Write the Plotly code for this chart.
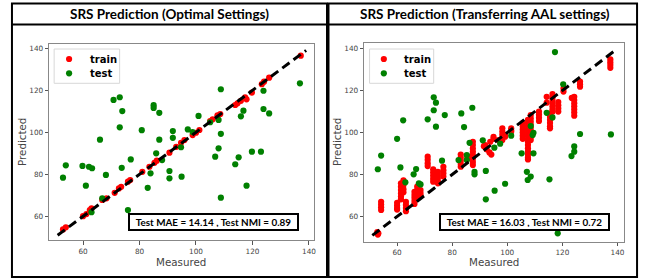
import plotly.graph_objects as go

# ---------------- data ----------------
left_train_x = [52.9, 53.9, 60.0, 61.2, 62.4, 63.0, 66.8, 68.3, 71.2, 72.7, 73.5, 75.9, 76.7, 81.0,
                83.5, 85.3, 86.1, 90.6, 93.0, 94.7, 95.9, 98.8, 100.0, 101.2, 105.0, 105.9, 107.6,
                108.6, 113.9, 114.7, 115.9, 117.4, 117.9, 119.8, 123.3, 124.1, 125.9, 137.1]
left_train_y = [53.8, 54.8, 60.1, 61.1, 63.0, 63.8, 67.8, 68.6, 71.2, 73.3, 74.1, 76.5, 77.3, 81.2,
                83.6, 85.5, 86.5, 90.3, 93.1, 95.0, 96.3, 98.7, 99.8, 101.1, 105.4, 106.2, 108.1,
                108.7, 113.0, 113.8, 115.0, 116.7, 115.7, 118.9, 122.9, 124.1, 126.0, 136.5]

left_test_x = [70.8, 73.0, 73.9, 73.0, 66.0, 80.8, 85.0, 85.0, 87.0, 87.0, 91.8, 91.8, 108.8, 136.8,
               123.9, 116.8, 115.9, 123.9, 125.9, 100.9, 108.0, 105.0, 108.8, 108.0, 97.1, 98.8,
               94.7, 53.9, 52.9, 59.8, 62.1, 63.2, 61.0, 68.1, 73.7, 76.9, 66.8, 63.0, 75.9, 82.9,
               83.9, 85.9, 88.0, 90.6, 90.6, 106.8, 115.1, 113.9, 119.8, 123.0, 117.9, 108.8, 94.9]
left_test_y = [115.4, 116.7, 110.1, 102.4, 96.5, 101.0, 112.9, 111.6, 109.3, 96.5, 100.6, 97.4, 120.5,
               123.3, 119.8, 110.3, 107.6, 111.1, 109.0, 107.8, 105.9, 104.8, 99.3, 92.4, 101.4,
               100.1, 92.9, 84.3, 78.4, 84.0, 83.6, 82.9, 74.6, 79.7, 83.1, 87.1, 68.6, 62.0, 63.0,
               73.6, 80.5, 90.0, 86.8, 81.6, 78.1, 88.4, 88.1, 84.8, 90.8, 90.8, 74.6, 68.9, 78.9]

right_train_x = [52.8, 53.0, 53.2,
                 54.2, 54.2, 54.2, 54.2,
                 60.0, 60.0, 60.0, 60.0,
                 61.4, 61.4, 61.4, 61.4, 61.4, 61.4,
                 62.3, 62.3, 62.3, 62.3,
                 63.2, 63.2, 63.2, 63.2,
                 66.3, 66.3, 66.3, 66.3, 66.3,
                 67.3, 67.3, 67.3, 67.3,
                 68.5, 68.5, 68.5,
                 71.1, 71.1, 71.1, 71.1,
                 73.1, 73.1, 73.1, 73.1, 73.1,
                 74.8, 74.8, 74.8, 74.8, 74.8,
                 76.8, 76.8, 76.8, 76.8,
                 83.1, 83.1, 83.1, 83.1, 83.1,
                 85.5, 85.5,
                 87.5, 87.5, 87.5, 87.5, 87.5, 87.5, 87.5, 87.5,
                 91.5, 92.5, 93.5, 94.2,
                 92.0, 93.8, 95.0, 95.0, 96.8,
                 98.2, 98.2, 98.2, 98.2, 98.2,
                 99.2, 99.2,
                 101.4, 101.4, 101.4,
                 105.6, 105.6, 105.6, 105.6, 105.6, 105.6,
                 107.5, 107.5, 107.5, 107.5, 107.5, 107.5, 107.5, 107.5, 107.5, 107.5, 107.5, 107.5,
                 107.5, 107.5,
                 108.5, 108.5, 108.5, 108.5, 108.5, 108.5, 108.5, 108.5, 108.5,
                 111.5, 111.5, 111.5, 111.5,
                 114.3, 114.3,
                 115.5, 115.5, 115.5, 115.5, 115.5, 115.5,
                 116.4, 116.4, 116.4, 116.4, 116.4, 116.4, 116.4,
                 118.5, 118.5, 118.5, 118.5,
                 120.4, 120.4,
                 123.4,
                 124.3, 124.3, 124.3, 124.3, 124.3, 124.3, 124.3,
                 126.4, 126.4, 126.4,
                 137.4, 137.4, 137.4, 137.4]
right_train_y = [52.6, 51.4, 52.0,
                 67.0, 65.7, 64.4, 63.1,
                 66.5, 65.2, 64.0, 63.3,
                 75.8, 74.2, 72.6, 71.0, 69.5, 68.2,
                 77.2, 75.0, 73.0, 71.5,
                 67.0, 65.5, 64.0, 62.5,
                 71.8, 70.3, 68.9, 67.4, 66.0,
                 74.2, 72.6, 71.0, 69.6,
                 72.6, 71.2, 70.0,
                 88.5, 87.0, 85.4, 84.0,
                 82.5, 81.0, 79.5, 78.0, 76.6,
                 81.3, 79.8, 78.3, 76.8, 75.8,
                 83.7, 82.0, 80.5, 79.0,
                 89.5, 88.0, 86.5, 85.0, 83.7,
                 88.8, 87.5,
                 95.6, 94.0, 92.4, 90.8, 89.2, 87.6, 86.0, 84.5,
                 93.5, 92.0, 90.5, 89.5,
                 94.0, 95.6, 98.0, 97.0, 96.4,
                 102.0, 100.5, 99.0, 97.5, 96.4,
                 98.8, 98.0,
                 102.0, 101.0, 100.4,
                 104.4, 103.0, 101.5, 100.0, 98.5, 97.0,
                 106.0, 104.5, 103.0, 101.5, 100.0, 98.5, 97.0, 95.6, 94.0, 92.5, 91.0, 89.5,
                 88.0, 87.2,
                 108.3, 106.8, 105.3, 103.8, 102.3, 100.8, 99.3, 97.8, 96.4,
                 110.0, 108.5, 107.0, 105.5,
                 114.2, 117.0,
                 109.0, 107.5, 106.0, 104.5, 103.0, 102.0,
                 118.3, 116.8, 115.5, 114.0, 112.5, 111.0, 109.9,
                 114.5, 113.0, 111.5, 110.0,
                 121.0, 119.5,
                 116.5,
                 117.0, 115.5, 114.0, 112.5, 111.0, 109.5, 108.0,
                 124.2, 123.0, 121.8,
                 134.8, 133.5, 132.2, 130.8]

right_test_x = [73.3, 74.1, 73.3, 77.3, 71.1, 62.2, 74.1, 83.3, 87.3, 84.3, 60.0, 86.3, 91.1, 95.3,
                97.4, 117.3, 120.3, 114.3, 116.4, 108.5, 109.5, 109.2, 101.4, 126.4, 137.6, 124.3,
                124.3, 123.3, 105.2, 109.5, 107.1, 108.5, 107.4, 99.2, 115.3, 118.3, 54.2, 53.0,
                61.2, 63.0, 66.0, 66.9, 67.9, 68.5, 76.3, 82.3, 85.3, 85.3, 88.1, 88.1, 92.2, 95.4,
                92.2]
right_test_y = [116.8, 114.2, 110.6, 108.3, 106.3, 105.8, 102.8, 109.1, 111.8, 102.6, 97.0, 95.1, 96.3,
                92.8, 94.7, 138.3, 123.0, 109.4, 107.2, 103.1, 99.9, 98.8, 98.5, 99.3, 99.1, 93.4,
                90.9, 88.8, 90.1, 90.1, 81.3, 79.0, 77.4, 75.6, 77.7, 52.0, 89.0, 82.5, 83.4, 76.3,
                80.1, 82.6, 75.8, 75.3, 86.6, 86.9, 89.3, 86.9, 81.3, 80.1, 81.7, 72.3, 68.2]

ideal_line = [51, 139]
tick_vals = [60, 80, 100, 120, 140]
titles = ["SRS Prediction (Optimal Settings)", "SRS Prediction (Transferring AAL settings)"]
stats = ["Test MAE = 14.14 , Test NMI = 0.89", "Test MAE = 16.03 , Test NMI = 0.72"]
legend_names = ["train", "test"]

# ---------------- figure ----------------
W, H = 656, 280
fig = go.Figure()

RED = "#ff0000"
GREEN = "#008000"
MS = 6.2

def px_x(p):
    return p / W

def px_y(p):
    return 1 - p / H

panels = [
    dict(xa="x", ya="y", trx=left_train_x, try_=left_train_y, tex=left_test_x, tey=left_test_y),
    dict(xa="x2", ya="y2", trx=right_train_x, try_=right_train_y, tex=right_test_x, tey=right_test_y),
]
for p in panels:
    fig.add_trace(go.Scatter(x=p["trx"], y=p["try_"], mode="markers", name=legend_names[0],
                             marker=dict(color=RED, size=MS), xaxis=p["xa"], yaxis=p["ya"],
                             showlegend=False))
    fig.add_trace(go.Scatter(x=p["tex"], y=p["tey"], mode="markers", name=legend_names[1],
                             marker=dict(color=GREEN, size=MS), xaxis=p["xa"], yaxis=p["ya"],
                             showlegend=False))
    fig.add_trace(go.Scatter(x=ideal_line, y=ideal_line, mode="lines", showlegend=False,
                             line=dict(color="black", width=3, dash="9px,5px"),
                             xaxis=p["xa"], yaxis=p["ya"]))

tickfont = dict(family="DejaVu Sans", size=7.3, color="#444")
axis_common = dict(tickvals=tick_vals, ticks="outside", ticklen=3.5, tickwidth=0.8, tickcolor="#555",
                   showline=True, linecolor="#888", linewidth=1, mirror=True, showgrid=False,
                   zeroline=False, tickfont=tickfont)

fig.update_layout(
    width=W, height=H, margin=dict(l=0, r=0, t=0, b=0),
    paper_bgcolor="white", plot_bgcolor="white", showlegend=False,
    xaxis=dict(domain=[px_x(49.3), px_x(315)], range=[48.0, 141.8], anchor="y", **axis_common),
    yaxis=dict(domain=[px_y(240.3), px_y(44.3)], range=[48.6, 141.9], anchor="x", **axis_common),
    xaxis2=dict(domain=[px_x(365.3), px_x(626.3)], range=[48.05, 142.5], anchor="y2", **axis_common),
    yaxis2=dict(domain=[px_y(241.7), px_y(43.3)], range=[48.0, 142.5], anchor="x2", **axis_common),
)

shapes = []
annotations = []

# cell borders
for (x0, x1) in [(12, 328), (329.5, 639)]:
    shapes.append(dict(type="rect", xref="paper", yref="paper", x0=px_x(x0), x1=px_x(x1),
                       y0=px_y(277), y1=px_y(3.5), line=dict(color="black", width=2)))
    shapes.append(dict(type="line", xref="paper", yref="paper", x0=px_x(x0), x1=px_x(x1),
                       y0=px_y(24.5), y1=px_y(24.5), line=dict(color="black", width=2)))

# legends (matplotlib-style compact boxes)
for (bx0, bx1, mx, tx) in [(54.3, 120, 69.3, 88.3), (370.7, 435, 385, 403.3)]:
    shapes.append(dict(type="rect", xref="paper", yref="paper", x0=px_x(bx0), x1=px_x(bx1),
                       y0=px_y(83.3), y1=px_y(49), line=dict(color="#d8d8d8", width=1),
                       fillcolor="rgba(255,255,255,0.85)"))
    for name, col, cy in [(legend_names[0], RED, 59), (legend_names[1], GREEN, 73.3)]:
        r = 3.1
        shapes.append(dict(type="circle", xref="paper", yref="paper",
                           x0=px_x(mx - r), x1=px_x(mx + r), y0=px_y(cy + r), y1=px_y(cy - r),
                           fillcolor=col, line=dict(color=col, width=0)))
        annotations.append(dict(text=f"<b>{name}</b>", x=px_x(tx), y=px_y(cy), xref="paper",
                                yref="paper", showarrow=False, xanchor="left", yanchor="middle",
                                font=dict(family="DejaVu Sans", size=10, color="black")))

# titles
for cx, t in zip([170, 486], titles):
    annotations.append(dict(text=f"<b>{t}</b>", x=px_x(cx), y=px_y(14.3), xref="paper", yref="paper",
                            showarrow=False, xanchor="center", yanchor="middle",
                            font=dict(family="Lato", size=13.5, color="black")))
# axis titles
for cx in [182, 496]:
    annotations.append(dict(text="Measured", x=px_x(cx), y=px_y(262.3), xref="paper", yref="paper",
                            showarrow=False, xanchor="center", yanchor="middle",
                            font=dict(family="DejaVu Sans", size=10.3, color="#444")))
for cx in [22, 338]:
    annotations.append(dict(text="Predicted", x=px_x(cx), y=px_y(142), xref="paper", yref="paper",
                            showarrow=False, xanchor="center", yanchor="middle", textangle=-90,
                            font=dict(family="DejaVu Sans", size=10.3, color="#444")))
# stats boxes
for cx, s in zip([213.8, 526.2], stats):
    annotations.append(dict(text=f"<b>{s}</b>", x=px_x(cx), y=px_y(221.7), xref="paper", yref="paper",
                            showarrow=False, xanchor="center", yanchor="middle",
                            font=dict(family="Lato", size=9.9, color="black"),
                            bgcolor="white", bordercolor="black", borderwidth=2, borderpad=2,
                            width=163, height=10))

fig.update_layout(shapes=shapes, annotations=annotations)

fig.write_html("out.html", config={"displayModeBar": False},
               post_script="document.body.style.margin='0';")
